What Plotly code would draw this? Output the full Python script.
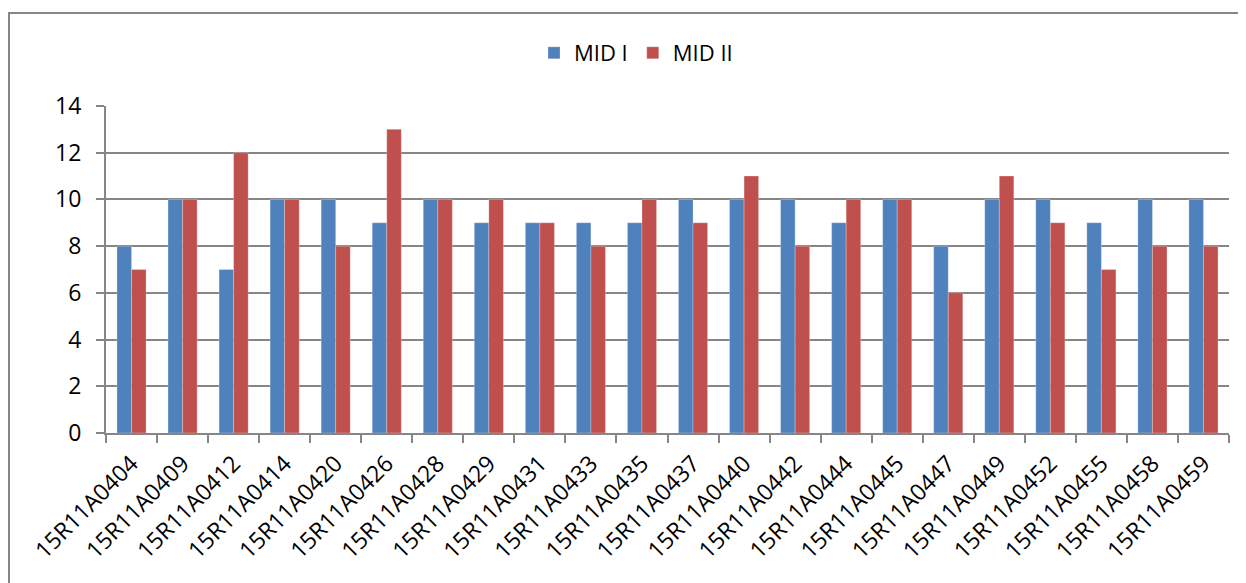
import plotly.graph_objects as go

categories = ["15R11A0404", "15R11A0409", "15R11A0412", "15R11A0414", "15R11A0420",
              "15R11A0426", "15R11A0428", "15R11A0429", "15R11A0431", "15R11A0433",
              "15R11A0435", "15R11A0437", "15R11A0440", "15R11A0442", "15R11A0444",
              "15R11A0445", "15R11A0447", "15R11A0449", "15R11A0452", "15R11A0455",
              "15R11A0458", "15R11A0459"]
mid1 = [8, 10, 7, 10, 10, 9, 10, 9, 9, 9, 9, 10, 10, 10, 9, 10, 8, 10, 10, 9, 10, 10]
mid2 = [7, 10, 12, 10, 8, 13, 10, 10, 9, 8, 10, 9, 11, 8, 10, 10, 6, 11, 9, 7, 8, 8]
y_ticks = [0, 2, 4, 6, 8, 10, 12, 14]

FONT = "Open Sans"
FS = 23
fig = go.Figure()
fig.add_trace(go.Bar(name="MID I", x=categories, y=mid1, marker_color="#4F81BD",
                     marker_line=dict(color="rgba(255,255,255,0.5)", width=0.5)))
fig.add_trace(go.Bar(name="MID II", x=categories, y=mid2, marker_color="#C0504D",
                     marker_line=dict(color="rgba(255,255,255,0.5)", width=0.5)))

OFF = 8  # page body margin
W, H = 1246 - OFF, 583 - OFF
L, R, T, B = 106 - OFF, 17, 106 - OFF, 150
pw, ph = W - L - R, H - T - B

def px_x(x):  # x in screen pixels
    return (x - OFF - L) / pw

def px_y(y):
    return (H - B - (y - OFF)) / ph

fig.update_layout(
    width=W, height=H,
    margin=dict(l=L, r=R, t=T, b=B, pad=0, autoexpand=False),
    paper_bgcolor="white", plot_bgcolor="white",
    barmode="group", bargap=0.43, bargroupgap=0,
    font=dict(family=FONT, size=FS, color="black"),
    showlegend=True,
    legend=dict(orientation="h", x=px_x(636), xanchor="center", y=px_y(53), yanchor="middle",
                font=dict(family=FONT, size=FS - 1), itemwidth=30, traceorder="normal",
                bgcolor="rgba(0,0,0,0)"),
    xaxis=dict(
        type="category", tickangle=-45, showgrid=False, automargin=False,
        showline=True, linecolor="#868686", linewidth=2,
        ticks="outside", ticklen=8, tickcolor="#868686", tickwidth=2,
        tickson="boundaries", tickfont=dict(family=FONT, size=FS),
        ticklabelstandoff=6,
    ),
    yaxis=dict(
        range=[0, 14], tickvals=y_ticks, showgrid=True, gridcolor="#868686", gridwidth=1.5,
        showline=True, linecolor="#868686", linewidth=2, zeroline=False, automargin=False,
        ticks="outside", ticklen=8, tickcolor="#868686", tickwidth=2,
        tickfont=dict(family=FONT, size=FS), ticklabelstandoff=10,
    ),
    shapes=[dict(type="rect", xref="paper", yref="paper",
                 x0=px_x(9), x1=px_x(1270), y0=px_y(13), y1=px_y(620),
                 line=dict(color="#868686", width=2), fillcolor="rgba(0,0,0,0)", layer="below")],
)

fig.write_html("out.html")
